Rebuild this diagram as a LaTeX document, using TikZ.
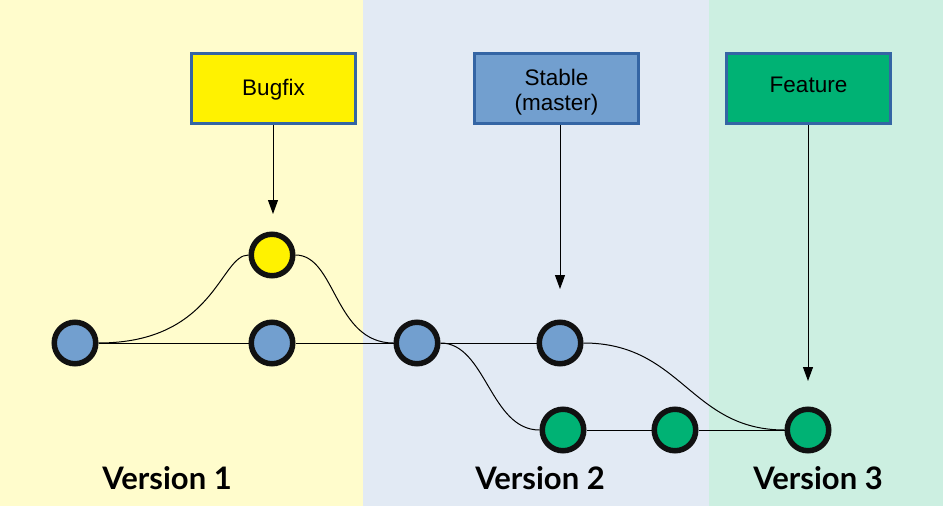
\documentclass[tikz,border=0pt]{standalone}
\usepackage{fontspec}
\setmainfont{Liberation Sans}
\newfontfamily\latofont{Lato}
\usetikzlibrary{arrows.meta}
\definecolor{bgyellow}{HTML}{FFFCCC}
\definecolor{bgblue}{HTML}{E2EAF4}
\definecolor{bggreen}{HTML}{CCEFE1}
\definecolor{cyellow}{HTML}{FFF200}
\definecolor{cblue}{HTML}{729FCF}
\definecolor{cgreen}{HTML}{00B274}
\definecolor{edgeblue}{HTML}{3465A4}
\definecolor{ring}{HTML}{111111}
\newcommand\boxtext[2]{\raisebox{#1}[0pt][0pt]{\begin{tabular}[t]{@{}c@{}}#2\end{tabular}}}
\tikzset{
  commit/.style={circle, draw=ring, line width=5.5pt, minimum size=41.5pt, inner sep=0pt},
  label box/.style={rectangle, draw=edgeblue, line width=3pt, minimum width=164pt, minimum height=70pt, inner sep=0pt, font=\fontsize{22.5}{25.5}\selectfont},
  conn/.style={line width=1pt, black},
  pointer/.style={line width=1pt, black, -{Triangle[length=14pt,width=10pt]}},
  version/.style={font=\latofont\bfseries\fontsize{31}{31}\selectfont, anchor=base}
}
\begin{document}
\begin{tikzpicture}[x=1pt,y=-1pt]
\useasboundingbox (0,0) rectangle (943,506);
% background bands
\fill[bgyellow] (0,0) rectangle (363,506);
\fill[bgblue] (363,0) rectangle (709,506);
\fill[bggreen] (709,0) rectangle (943,506);

% commits
\node[commit, fill=cblue] (A) at (75,343) {};
\node[commit, fill=cblue] (B) at (272,343) {};
\node[commit, fill=cyellow] (Y) at (272,255) {};
\node[commit, fill=cblue] (C) at (417,343) {};
\node[commit, fill=cblue] (D) at (560,343) {};
\node[commit, fill=cgreen] (G1) at (563,430) {};
\node[commit, fill=cgreen] (G2) at (675,430) {};
\node[commit, fill=cgreen] (G3) at (808,430) {};

% connectors
\draw[conn] (A) -- (B);
\draw[conn] (B) -- (C);
\draw[conn] (C) -- (D);
\draw[conn] (G1) -- (G2);
\draw[conn] (G2) -- (G3);
\draw[conn] (A.east) .. controls (215,343) and (220,255) .. (Y.west);
\draw[conn] (Y.east) .. controls (336,255) and (334,343) .. (C.west);
\draw[conn] (C.east) .. controls (486,343) and (490,430) .. (G1.west);
\draw[conn] (D.east) .. controls (682,343) and (690,430) .. (G3.west);

% labels
\node[label box, fill=cyellow] (bug) at (273.5,88.5) {\boxtext{-6.5pt}{Bugfix}};
\node[label box, fill=cblue] (stab) at (556.5,88.5) {\boxtext{3.5pt}{Stable\\(master)}};
\node[label box, fill=cgreen] (feat) at (808.5,88.5) {\boxtext{-3.8pt}{Feature}};

\coordinate (bt) at (273,214);
\coordinate (st) at (560,289);
\coordinate (ft) at (808,381);
\draw[pointer] (bug.south -| bt) -- (bt);
\draw[pointer] (stab.south -| st) -- (st);
\draw[pointer] (feat.south -| ft) -- (ft);

% version labels
\node[version] (v1) at (167,489) {Version 1};
\node[version] (v2) at (540,489) {Version 2};
\node[version] (v3) at (818,489) {Version 3};
\end{tikzpicture}
\end{document}
